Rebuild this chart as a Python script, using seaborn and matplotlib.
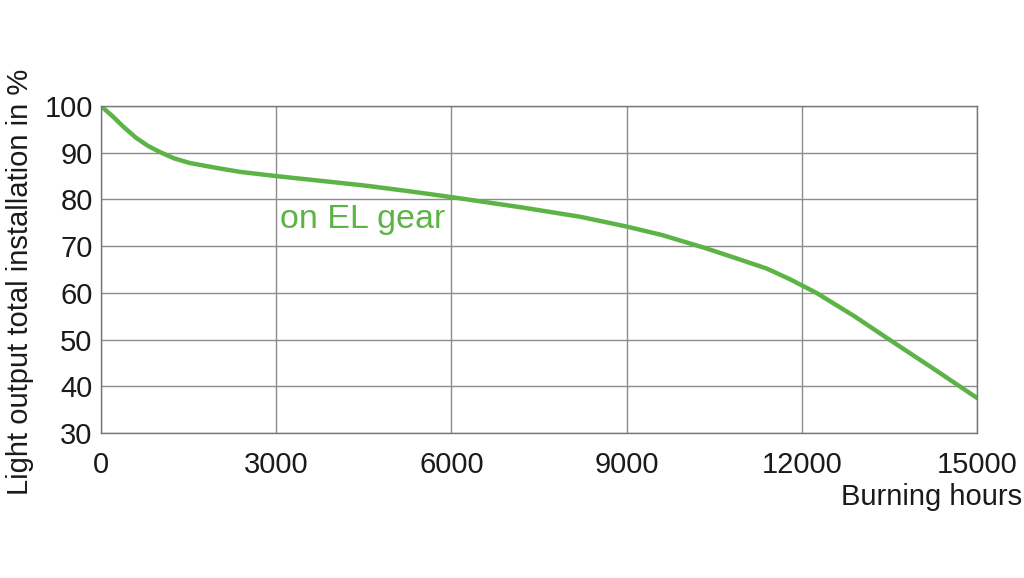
import matplotlib
matplotlib.use("Agg")
import matplotlib.pyplot as plt
import seaborn as sns
import pandas as pd

hours = [0, 200, 380, 600, 800, 1000, 1250, 1520, 2000, 2380, 3000, 3750, 4500, 5250, 6000,
         7200, 8200, 9000, 9600, 10370, 10900, 11400, 11800, 12000, 12250, 12900, 13510, 14250, 15000]
light = [100, 97.8, 95.6, 93.2, 91.5, 90.2, 88.8, 87.8, 86.7, 85.9, 85.0, 84.0, 83.0, 81.8, 80.5,
         78.3, 76.3, 74.2, 72.4, 69.5, 67.3, 65.2, 62.9, 61.6, 60.0, 55.0, 49.9, 43.8, 37.5]
xticks = [0, 3000, 6000, 9000, 12000, 15000]
yticks = [30, 40, 50, 60, 70, 80, 90, 100]
series_label = "on EL gear"

sns.set_style("white")
plt.rcParams['font.family'] = ['Liberation Sans', 'DejaVu Sans']

green = "#5db446"
df = pd.DataFrame({"hours": hours, "light": light})

fig = plt.figure(figsize=(10.24, 5.78), dpi=100)
ax = fig.add_axes([0.0986, 0.2509, 0.8555, 0.5657])
sns.lineplot(data=df, x="hours", y="light", ax=ax, color=green, linewidth=3.2)

ax.set_xlim(0, 15000)
ax.set_ylim(30, 100)
ax.set_xticks(xticks)
ax.set_yticks(yticks)
ax.set_xticklabels([str(t) for t in xticks])
ax.set_yticklabels([str(t) for t in yticks])
ax.grid(True, color="#8c8c8c", linewidth=1.0)
for s in ax.spines.values():
    s.set_color("#777777")
    s.set_linewidth(1.0)
ax.tick_params(axis="both", labelsize=21, length=0, colors="#1a1a1a")
ax.tick_params(axis="x", pad=13)
ax.tick_params(axis="y", pad=6)
ax.set_xlabel("")
ax.set_ylabel("")

ax.text(3060, 75.6, series_label, color=green, fontsize=24.5, va="center", ha="left")

fig.text(0.998, 0.140, "Burning hours", fontsize=21, ha="right", va="center", color="#1a1a1a")
fig.text(0.020, 0.5126, "Light output total installation in %", fontsize=21, rotation=90,
         ha="center", va="center", color="#1a1a1a")

fig.savefig("out.png", dpi=100, facecolor="white")
